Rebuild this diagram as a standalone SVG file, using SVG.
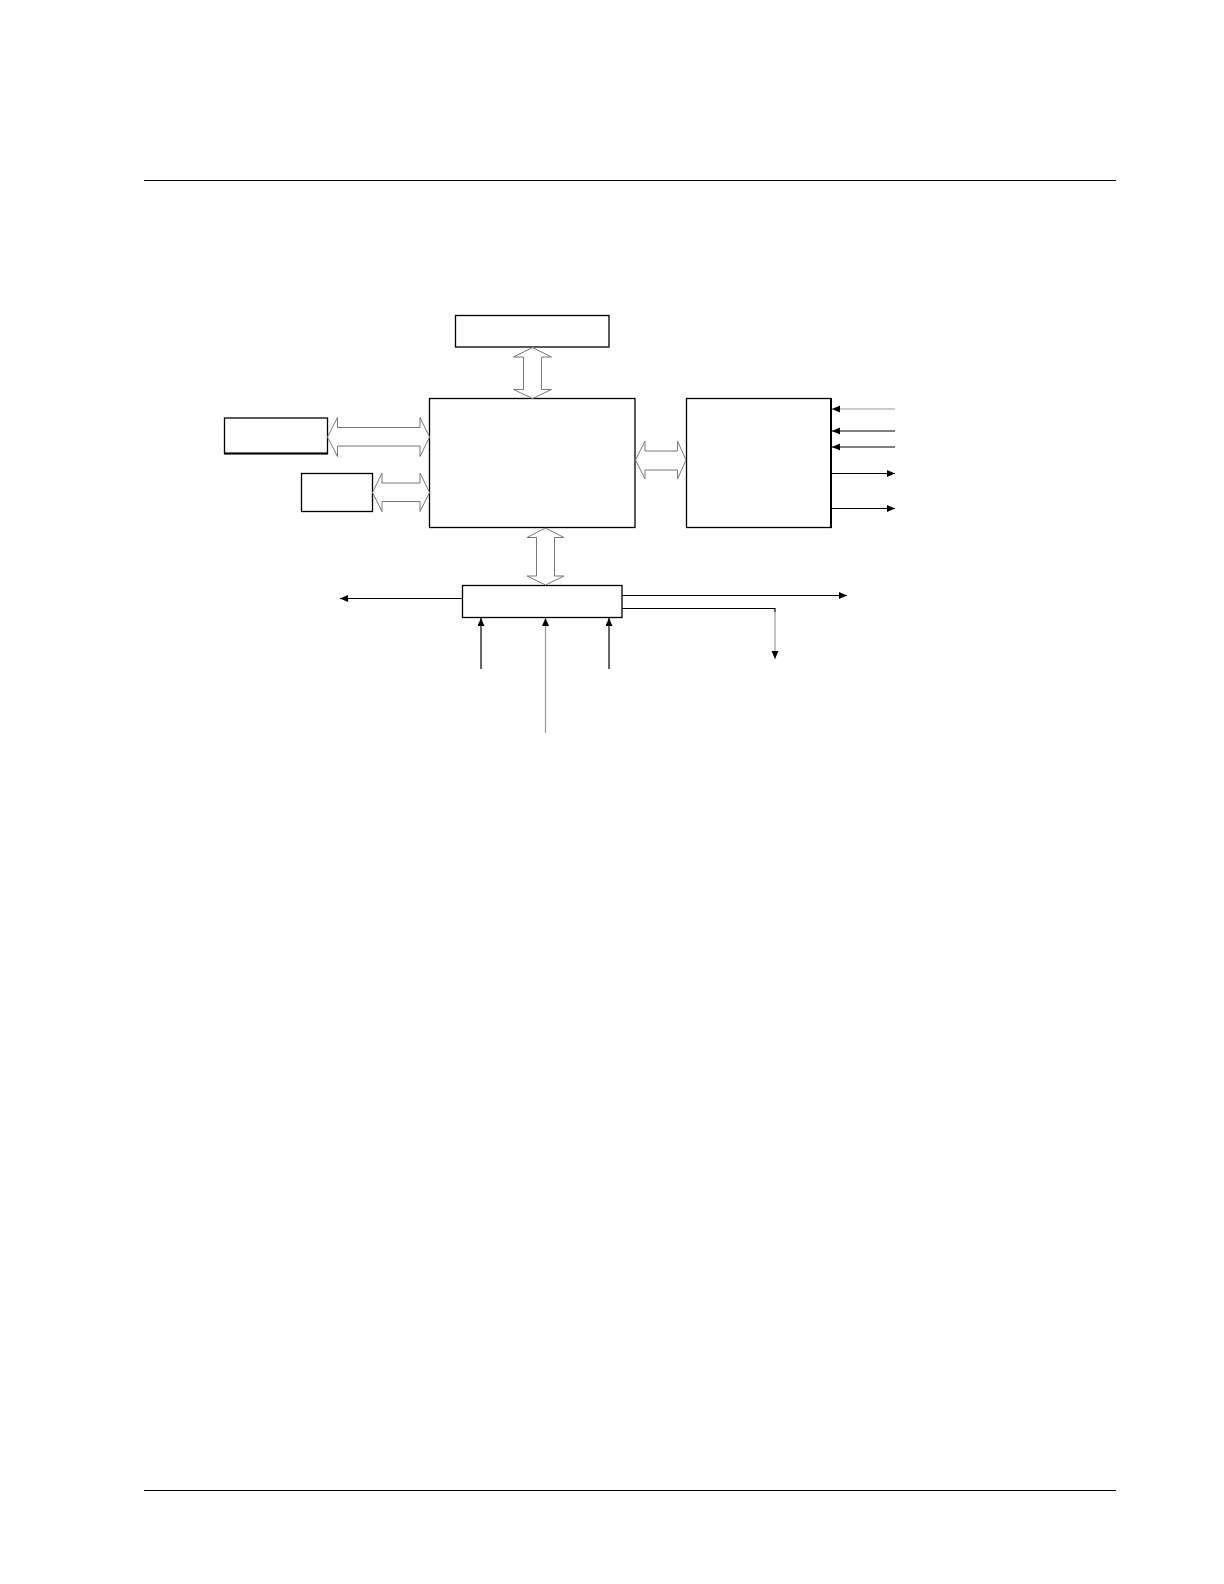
<svg xmlns="http://www.w3.org/2000/svg" width="1224" height="1584" viewBox="0 0 1224 1584">
<style>
.box{fill:#fff;stroke:#000;stroke-width:1.3}
.rule{stroke:#000;stroke-width:1}
.bus{fill:#fff;stroke:#777;stroke-width:1}
.ln{fill:none;stroke:#000;stroke-width:1.2}
.lg{fill:none;stroke:#999;stroke-width:1.2}
</style>
<defs>
<marker id="ah" markerUnits="userSpaceOnUse" markerWidth="9" markerHeight="8" refX="8" refY="3.5" orient="auto">
<path d="M0,0 L8,3.5 L0,7 Z" fill="#000"/>
</marker>
</defs>
<rect width="1224" height="1584" fill="#fff"/>
<g id="rules">
<line class="rule" x1="144" y1="180.5" x2="1116" y2="180.5"/>
<line class="rule" x1="144" y1="1490.5" x2="1116" y2="1490.5"/>
</g>
<g id="top-box"><rect class="box" x="455.5" y="315.5" width="153.5" height="31.5"/></g>
<g id="main-box"><rect class="box" x="429.5" y="398.5" width="205.5" height="129"/></g>
<g id="right-box"><rect class="box" x="686.5" y="398.5" width="144.5" height="129"/><line x1="831" y1="398" x2="831" y2="528" stroke="#000" stroke-width="2"/></g>
<g id="left-box-1"><rect class="box" x="224.5" y="418" width="103" height="35.5"/><line x1="224" y1="453.5" x2="328" y2="453.5" stroke="#000" stroke-width="2"/></g>
<g id="left-box-2"><rect class="box" x="301.5" y="473.5" width="71" height="38"/></g>
<g id="bottom-box"><rect class="box" x="462.5" y="585.5" width="159.5" height="32"/></g>
<g id="connectors">
<polygon class="bus" points="532.5,347.5 551.5,357 541.5,357 541.5,389.5 551.5,389.5 532.5,398.5 513.5,389.5 523.5,389.5 523.5,357 513.5,357"/>
<polygon class="bus" points="327.5,437 337.5,417.5 337.5,427.5 420,427.5 420,417.5 429.5,437 420,456.5 420,446 337.5,446 337.5,456.5"/>
<polygon class="bus" points="372.5,492.5 382,473 382,483 420,483 420,473 429.5,492.5 420,511.5 420,501.5 382,501.5 382,511.5"/>
<polygon class="bus" points="635.5,460 645,441 645,451 677.5,451 677.5,441 686,460 677.5,479 677.5,470 645,470 645,479"/>
<polygon class="bus" points="545.5,528 564,537.5 554.5,537.5 554.5,576 564,576 545.5,585 527,576 536.5,576 536.5,537.5 527,537.5"/>
<line class="lg" x1="895" y1="409" x2="832" y2="409" marker-end="url(#ah)"/>
<line class="ln" x1="895" y1="431" x2="832" y2="431" marker-end="url(#ah)"/>
<line class="ln" x1="895" y1="447" x2="832" y2="447" marker-end="url(#ah)"/>
<line class="ln" x1="832" y1="473.5" x2="895" y2="473.5" marker-end="url(#ah)"/>
<line class="ln" x1="832" y1="508.5" x2="895" y2="508.5" stroke="#555" marker-end="url(#ah)"/>
<line class="ln" x1="462" y1="598.5" x2="340" y2="598.5" marker-end="url(#ah)"/>
<line class="ln" x1="622" y1="595.5" x2="847" y2="595.5" marker-end="url(#ah)"/>
<polyline class="ln" points="622,608.5 775,608.5 775,612"/>
<line class="lg" x1="775" y1="612" x2="775" y2="659" marker-end="url(#ah)"/>
<line class="ln" x1="481" y1="669" x2="481" y2="618" marker-end="url(#ah)"/>
<line class="ln" x1="609" y1="669" x2="609" y2="618" marker-end="url(#ah)"/>
<line class="lg" x1="545.5" y1="733" x2="545.5" y2="618" marker-end="url(#ah)"/>
</g>
</svg>
